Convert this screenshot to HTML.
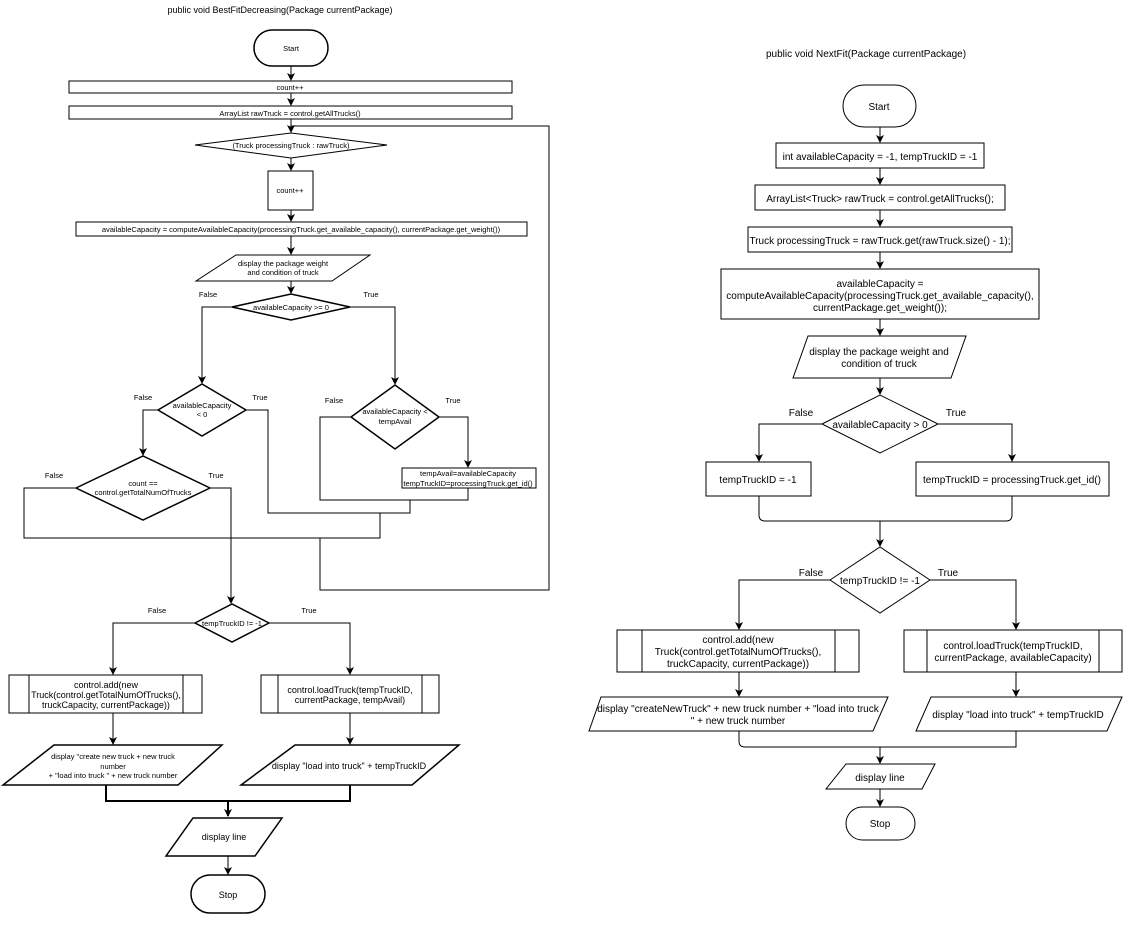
<!DOCTYPE html>
<html><head><meta charset="utf-8"><style>
html,body{margin:0;padding:0;background:#fff;}
svg{display:block;}
text{font-family:"Liberation Sans",sans-serif;fill:#000;text-anchor:middle;}
.s{font-size:7.5px}
.m{font-size:9px}
.r{font-size:10px}
</style></head><body>
<svg width="1132" height="927" viewBox="0 0 1132 927" xmlns="http://www.w3.org/2000/svg">
<defs>
<marker id="a" markerWidth="8" markerHeight="8" refX="7" refY="4" orient="auto" markerUnits="userSpaceOnUse">
<path d="M0,0 L8,4 L0,8 L2,4 z" fill="#000"/></marker>
</defs>
<g fill="#fff" stroke="#000" stroke-width="1">
<!-- LEFT -->
<text class="m" x="280" y="13" stroke="none">public void BestFitDecreasing(Package currentPackage)</text>
<rect x="254" y="30" width="74" height="36" rx="18" stroke-width="1.5"/>
<text class="s" x="291" y="51" stroke="none">Start</text>
<line x1="291" y1="66" x2="291" y2="80" marker-end="url(#a)"/>
<rect x="69" y="81" width="443" height="12"/>
<text class="s" x="290" y="90" stroke="none">count++</text>
<line x1="291" y1="93" x2="291" y2="105" marker-end="url(#a)"/>
<rect x="69" y="106" width="443" height="13"/>
<text class="s" x="290" y="116" stroke="none">ArrayList rawTruck = control.getAllTrucks()</text>
<line x1="291" y1="119" x2="291" y2="132" marker-end="url(#a)"/>
<polyline points="291,126 549,126 549,590 320,590 320,538" fill="none"/>
<polygon points="195,145 291,133 387,145 291,158"/>
<text class="s" x="291" y="148" stroke="none">(Truck processingTruck : rawTruck)</text>
<line x1="291" y1="158" x2="291" y2="170" marker-end="url(#a)"/>
<rect x="268" y="171" width="45" height="39"/>
<text class="s" x="290" y="193" stroke="none">count++</text>
<line x1="291" y1="210" x2="291" y2="221" marker-end="url(#a)"/>
<rect x="76" y="222" width="451" height="14"/>
<text class="s" x="301" y="232" stroke="none">availableCapacity = computeAvailableCapacity(processingTruck.get_available_capacity(), currentPackage.get_weight())</text>
<line x1="291" y1="236" x2="291" y2="254" marker-end="url(#a)"/>
<polygon points="236,255 370,255 332,281 196,281"/>
<text class="s" x="283" y="266" stroke="none">display the package weight</text>
<text class="s" x="283" y="275" stroke="none">and condition of truck</text>
<line x1="291" y1="281" x2="291" y2="293" marker-end="url(#a)"/>
<polygon points="232,307 291,294 350,307 291,320" stroke-width="1.5"/>
<text class="s" x="291" y="310" stroke="none">availableCapacity &gt;= 0</text>
<text class="s" x="208" y="297" stroke="none">False</text>
<text class="s" x="371" y="297" stroke="none">True</text>
<polyline points="232,307 202,307 202,383" fill="none" marker-end="url(#a)"/>
<polyline points="350,307 395,307 395,384" fill="none" marker-end="url(#a)"/>
<polygon points="158,410 202,384 246,410 202,436" stroke-width="1.5"/>
<text class="s" x="202" y="408" stroke="none">availableCapacity</text>
<text class="s" x="202" y="417" stroke="none">&lt; 0</text>
<text class="s" x="143" y="400" stroke="none">False</text>
<text class="s" x="260" y="400" stroke="none">True</text>
<polyline points="246,410 268,410 268,513 410,513 410,500" fill="none"/>
<polyline points="158,410 143,410 143,455" fill="none" marker-end="url(#a)"/>
<polygon points="76,488 143,456 210,488 143,520" stroke-width="1.5"/>
<text class="s" x="143" y="486" stroke="none">count ==</text>
<text class="s" x="143" y="495" stroke="none">control.getTotalNumOfTrucks</text>
<text class="s" x="54" y="478" stroke="none">False</text>
<text class="s" x="216" y="478" stroke="none">True</text>
<polyline points="76,488 24,488 24,538 380,538 380,513" fill="none"/>
<polyline points="210,488 231,488 231,603" fill="none" marker-end="url(#a)"/>
<polygon points="351,417 395,385 439,417 395,449" stroke-width="1.5"/>
<text class="s" x="395" y="414" stroke="none">availableCapacity &lt;</text>
<text class="s" x="395" y="424" stroke="none">tempAvail</text>
<text class="s" x="334" y="403" stroke="none">False</text>
<text class="s" x="453" y="403" stroke="none">True</text>
<polyline points="439,417 468,417 468,467" fill="none" marker-end="url(#a)"/>
<polyline points="351,417 320,417 320,500 468,500 468,488" fill="none"/>
<rect x="402" y="468" width="134" height="20"/>
<text class="s" x="468" y="476" stroke="none">tempAvail=availableCapacity</text>
<text class="s" x="468" y="486" stroke="none">tempTruckID=processingTruck.get_id()</text>

<polygon points="195,623 232,604 269,623 232,642" stroke-width="1.5"/>
<text class="s" x="232" y="626" stroke="none">tempTruckID != -1</text>
<text class="s" x="157" y="613" stroke="none">False</text>
<text class="s" x="309" y="613" stroke="none">True</text>
<polyline points="195,623 113,623 113,674" fill="none" marker-end="url(#a)"/>
<polyline points="269,623 350,623 350,674" fill="none" marker-end="url(#a)"/>
<rect x="9" y="675" width="193" height="38"/>
<line x1="29" y1="675" x2="29" y2="713"/><line x1="183" y1="675" x2="183" y2="713"/>
<text class="m" x="106" y="688" stroke="none">control.add(new</text>
<text class="m" x="106" y="698" stroke="none">Truck(control.getTotalNumOfTrucks(),</text>
<text class="m" x="106" y="708" stroke="none">truckCapacity, currentPackage))</text>
<rect x="261" y="675" width="178" height="38"/>
<line x1="278" y1="675" x2="278" y2="713"/><line x1="422" y1="675" x2="422" y2="713"/>
<text class="m" x="350" y="693" stroke="none">control.loadTruck(tempTruckID,</text>
<text class="m" x="350" y="703" stroke="none">currentPackage, tempAvail)</text>
<line x1="113" y1="713" x2="113" y2="744" marker-end="url(#a)"/>
<line x1="350" y1="713" x2="350" y2="744" marker-end="url(#a)"/>
<polygon points="54,745 222,745 178,785 3,785" stroke-width="1.5"/>
<text class="s" x="113" y="759" stroke="none">display "create new truck + new truck</text>
<text class="s" x="113" y="769" stroke="none" font-size="6">number</text>
<text class="s" x="113" y="778" stroke="none">+ "load into truck " + new truck number</text>
<polygon points="295,745 459,745 412,785 241,785" stroke-width="1.5"/>
<text class="m" x="349" y="769" stroke="none">display "load into truck" + tempTruckID</text>
<polyline points="106,785 106,801 350,801 350,785" fill="none" stroke-width="2"/>
<line x1="228" y1="801" x2="228" y2="816" stroke-width="2" marker-end="url(#a)"/>
<polygon points="193,818 282,818 255,856 166,856" stroke-width="1.5"/>
<text class="m" x="224" y="840" stroke="none">display line</text>
<line x1="228" y1="856" x2="228" y2="874" marker-end="url(#a)"/>
<rect x="191" y="875" width="74" height="38" rx="19" stroke-width="1.5"/>
<text class="m" x="228" y="898" stroke="none">Stop</text>

<!-- RIGHT -->
<text class="r" x="866" y="57" stroke="none">public void NextFit(Package currentPackage)</text>
<rect x="843" y="85" width="73" height="42" rx="21"/>
<text class="r" x="879" y="110" stroke="none">Start</text>
<line x1="880" y1="127" x2="880" y2="142" marker-end="url(#a)"/>
<rect x="776" y="143" width="208" height="25"/>
<text class="r" x="880" y="160" stroke="none">int availableCapacity = -1, tempTruckID = -1</text>
<line x1="880" y1="168" x2="880" y2="184" marker-end="url(#a)"/>
<rect x="755" y="185" width="250" height="25"/>
<text class="r" x="880" y="202" stroke="none">ArrayList&lt;Truck&gt; rawTruck = control.getAllTrucks();</text>
<line x1="880" y1="210" x2="880" y2="226" marker-end="url(#a)"/>
<rect x="748" y="227" width="264" height="25"/>
<text class="r" x="880" y="244" stroke="none">Truck processingTruck = rawTruck.get(rawTruck.size() - 1);</text>
<line x1="880" y1="252" x2="880" y2="268" marker-end="url(#a)"/>
<rect x="721" y="269" width="318" height="50"/>
<text class="r" x="880" y="287" stroke="none">availableCapacity =</text>
<text class="r" x="880" y="299" stroke="none">computeAvailableCapacity(processingTruck.get_available_capacity(),</text>
<text class="r" x="880" y="311" stroke="none">currentPackage.get_weight());</text>
<line x1="880" y1="319" x2="880" y2="335" marker-end="url(#a)"/>
<polygon points="808,336 966,336 951,378 793,378"/>
<text class="r" x="879" y="355" stroke="none">display the package weight and</text>
<text class="r" x="879" y="367" stroke="none">condition of truck</text>
<line x1="880" y1="378" x2="880" y2="394" marker-end="url(#a)"/>
<polygon points="822,424 880,395 938,424 880,453"/>
<text class="r" x="880" y="428" stroke="none">availableCapacity &gt; 0</text>
<text class="r" x="801" y="416" stroke="none">False</text>
<text class="r" x="956" y="416" stroke="none">True</text>
<polyline points="822,424 759,424 759,461" fill="none" marker-end="url(#a)"/>
<polyline points="938,424 1012,424 1012,461" fill="none" marker-end="url(#a)"/>
<rect x="706" y="462" width="105" height="34"/>
<text class="r" x="758" y="483" stroke="none">tempTruckID = -1</text>
<rect x="916" y="462" width="193" height="34"/>
<text class="r" x="1012" y="483" stroke="none">tempTruckID = processingTruck.get_id()</text>
<path d="M759,496 V515 Q759,521 765,521 H1006 Q1012,521 1012,515 V496" fill="none"/>
<line x1="880" y1="521" x2="880" y2="546" marker-end="url(#a)"/>
<polygon points="830,580 880,547 930,580 880,613"/>
<text class="r" x="880" y="584" stroke="none">tempTruckID != -1</text>
<text class="r" x="811" y="576" stroke="none">False</text>
<text class="r" x="948" y="576" stroke="none">True</text>
<polyline points="830,580 739,580 739,629" fill="none" marker-end="url(#a)"/>
<polyline points="930,580 1016,580 1016,629" fill="none" marker-end="url(#a)"/>
<rect x="617" y="630" width="242" height="42"/>
<line x1="642" y1="630" x2="642" y2="672"/><line x1="835" y1="630" x2="835" y2="672"/>
<text class="r" x="738" y="643" stroke="none">control.add(new</text>
<text class="r" x="738" y="655" stroke="none">Truck(control.getTotalNumOfTrucks(),</text>
<text class="r" x="738" y="667" stroke="none">truckCapacity, currentPackage))</text>
<rect x="904" y="630" width="218" height="42"/>
<line x1="927" y1="630" x2="927" y2="672"/><line x1="1099" y1="630" x2="1099" y2="672"/>
<text class="r" x="1013" y="649" stroke="none">control.loadTruck(tempTruckID,</text>
<text class="r" x="1013" y="661" stroke="none">currentPackage, availableCapacity)</text>
<line x1="739" y1="672" x2="739" y2="696" marker-end="url(#a)"/>
<line x1="1016" y1="672" x2="1016" y2="696" marker-end="url(#a)"/>
<polygon points="601,697 888,697 873,731 589,731"/>
<text class="r" x="738" y="712" stroke="none">display "createNewTruck" + new truck number + "load into truck</text>
<text class="r" x="738" y="724" stroke="none">" + new truck number</text>
<polygon points="931,697 1122,697 1107,731 916,731"/>
<text class="r" x="1018" y="718" stroke="none">display "load into truck" + tempTruckID</text>
<path d="M739,731 V741 Q739,747 745,747 H1016 V731" fill="none"/>
<line x1="880" y1="747" x2="880" y2="763" marker-end="url(#a)"/>
<polygon points="846,764 935,764 922,789 826,789"/>
<text class="r" x="880" y="781" stroke="none">display line</text>
<line x1="880" y1="789" x2="880" y2="806" marker-end="url(#a)"/>
<rect x="846" y="807" width="69" height="33" rx="16.5"/>
<text class="r" x="880" y="827" stroke="none">Stop</text>
</g>
</svg>
</body></html>
